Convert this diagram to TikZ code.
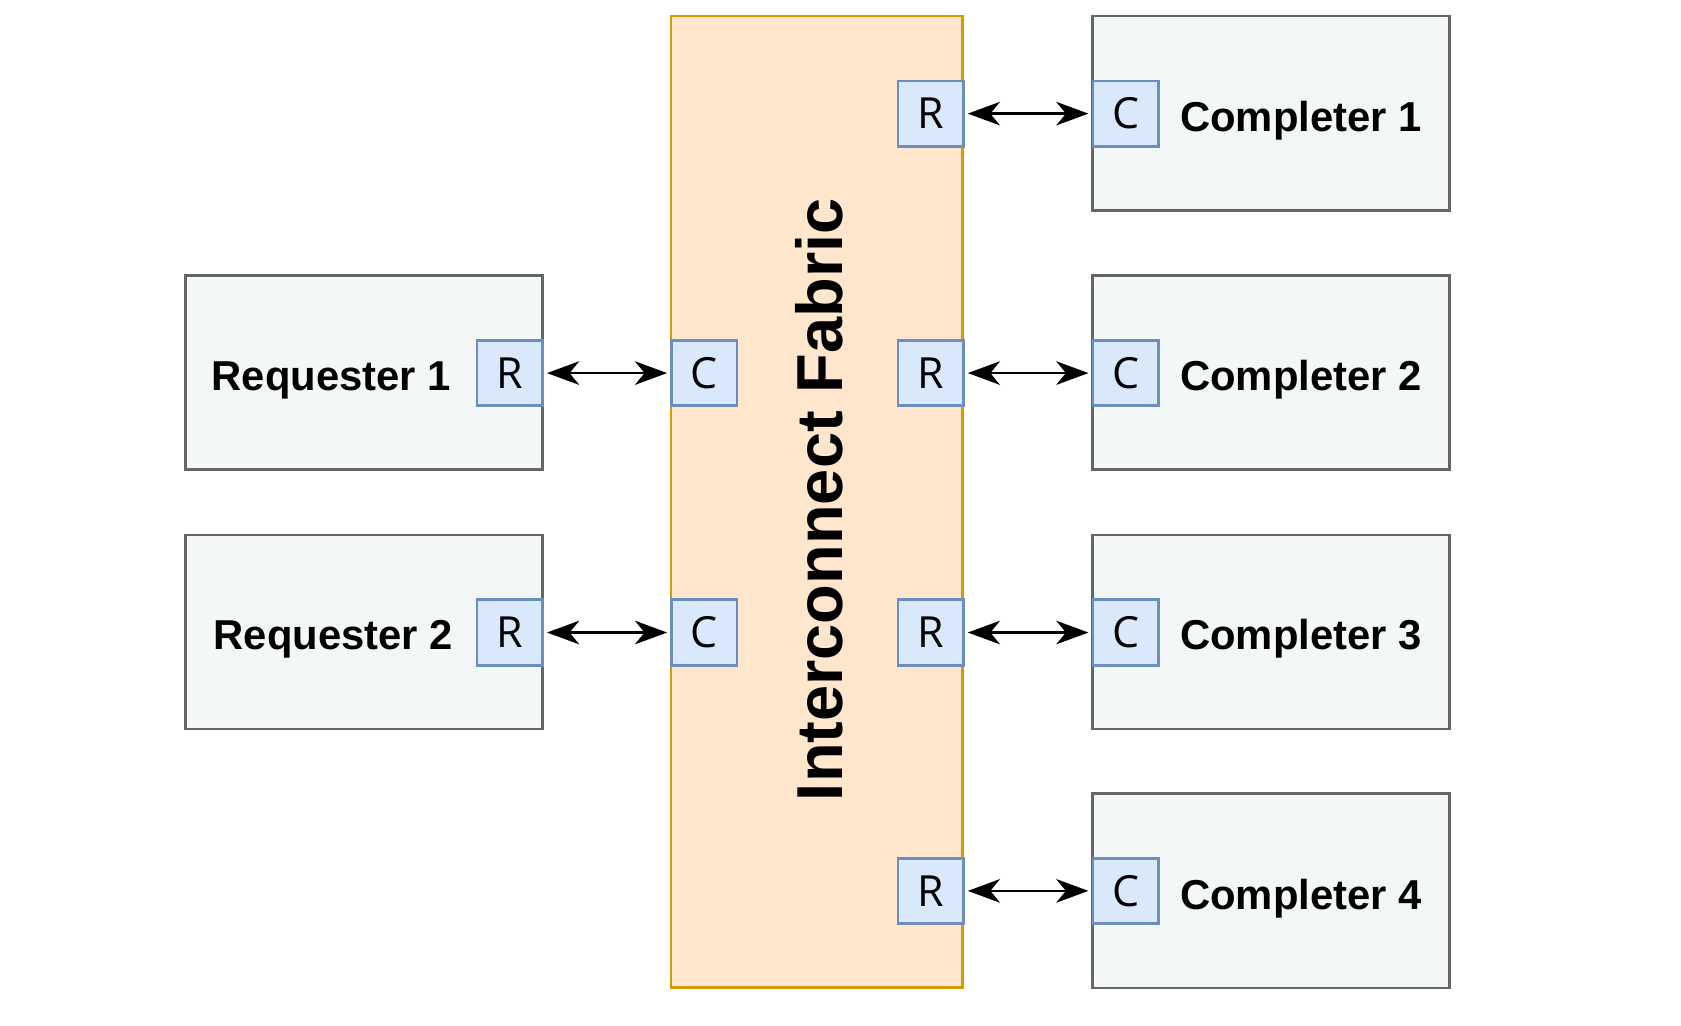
\documentclass[tikz,border=0pt]{standalone}
\usepackage{fontspec}
\setmainfont{Liberation Sans}
\newfontfamily\portfont{Open Sans}
\usetikzlibrary{arrows.meta}
\definecolor{fabfill}{HTML}{FFE6CC}
\definecolor{fabdraw}{HTML}{D79B00}
\definecolor{portfill}{HTML}{DAE8FC}
\definecolor{portdraw}{HTML}{6C8EBF}
\definecolor{devfill}{HTML}{F4F7F8}
\definecolor{devdraw}{HTML}{666666}
\tikzset{
  devbox/.style={draw=devdraw, fill=devfill, line width=2.6pt, minimum width=333pt, minimum height=181pt, inner sep=0pt},
  portbox/.style={draw=portdraw, fill=portfill, line width=2.5pt, minimum width=61pt, minimum height=61pt, inner sep=0pt, font=\portfont\fontsize{40}{48}\selectfont},
  devlabel/.style={font=\bfseries\fontsize{39}{46}\selectfont, anchor=base, inner sep=0pt},
  fabbox/.style={draw=fabdraw, fill=fabfill, line width=2.5pt, minimum width=272pt, minimum height=906pt, inner sep=0pt},
  fablabel/.style={font=\bfseries\fontsize{60.6}{72}\selectfont, rotate=90, inner sep=0pt},
  conn/.style={line width=2.2pt, {Stealth[length=30pt,width=22pt,inset=9pt]}-{Stealth[length=30pt,width=22pt,inset=9pt]}, shorten <=3pt, shorten >=3pt}
}
\begin{document}
\begin{tikzpicture}[x=1pt,y=-1pt]
\useasboundingbox (0,0) rectangle (1568,957);
\fill[white] (0,0) rectangle (1568,957);
% fabric
\node[fabbox] (fab) at (762,468) {};
\node[fablabel] (fablbl) at (764,466) {Interconnect Fabric};
% requesters
\node[devbox] (req1) at (339.5,347.5) {};
\node[devbox] (req2) at (339.5,589.5) {};
\node[devlabel] (req1lbl) at (309,364) {Requester 1};
\node[devlabel] (req2lbl) at (311,606) {Requester 2};
\node[portbox] (rr1) at (475.5,348) {R};
\node[portbox] (rr2) at (475.5,590) {R};
\node[portbox] (fc1) at (657,348) {C};
\node[portbox] (fc2) at (657,590) {C};
% completers
\node[devbox] (cmp1) at (1185.5,105.5) {};
\node[devbox] (cmp2) at (1185.5,347.5) {};
\node[devbox] (cmp3) at (1185.5,589.5) {};
\node[devbox] (cmp4) at (1185.5,831) {};
\node[devlabel] (cmp1lbl) at (1213.5,123) {Completer 1};
\node[devlabel] (cmp2lbl) at (1213.5,364) {Completer 2};
\node[devlabel] (cmp3lbl) at (1213.5,606) {Completer 3};
\node[devlabel] (cmp4lbl) at (1213.5,848) {Completer 4};
\node[portbox] (fr1) at (868,106) {R};
\node[portbox] (fr2) at (868,348) {R};
\node[portbox] (fr3) at (868,590) {R};
\node[portbox] (fr4) at (868,831) {R};
\node[portbox] (cc1) at (1050,106) {C};
\node[portbox] (cc2) at (1050,348) {C};
\node[portbox] (cc3) at (1050,590) {C};
\node[portbox] (cc4) at (1050,831) {C};
% connectors
\draw[conn] (rr1.east) -- (fc1.west);
\draw[conn] (rr2.east) -- (fc2.west);
\draw[conn] (fr1.east) -- (cc1.west);
\draw[conn] (fr2.east) -- (cc2.west);
\draw[conn] (fr3.east) -- (cc3.west);
\draw[conn] (fr4.east) -- (cc4.west);
\end{tikzpicture}
\end{document}
